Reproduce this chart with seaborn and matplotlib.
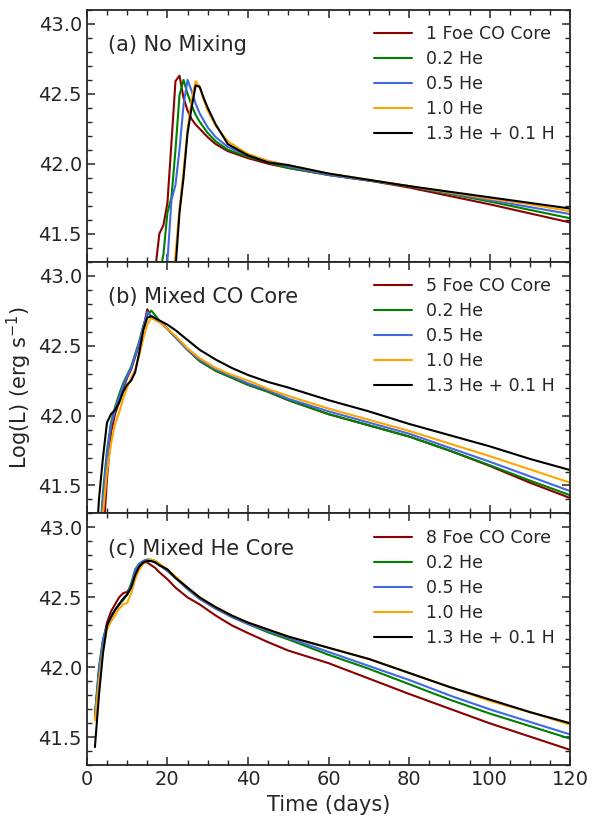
import numpy as np
import pandas as pd
import seaborn as sns
import matplotlib.pyplot as plt
from matplotlib.ticker import MultipleLocator

# series names (legend labels) for each panel
labels_a = ["1 Foe CO Core", "0.2 He", "0.5 He", "1.0 He", "1.3 He + 0.1 H"]
labels_b = ["5 Foe CO Core", "0.2 He", "0.5 He", "1.0 He", "1.3 He + 0.1 H"]
labels_c = ["8 Foe CO Core", "0.2 He", "0.5 He", "1.0 He", "1.3 He + 0.1 H"]
colors = ["#8b0000", "#008000", "#4169e1", "#ffa500", "#000000"]

# (a) No Mixing
t_a = [15, 16, 17, 18, 19, 20, 21, 22, 23, 24, 25, 26, 27, 28, 29, 30, 32, 35,
       40, 45, 50, 60, 70, 80, 90, 100, 110, 120]
a_co = [40.8, 41.0, 41.25, 41.5, 41.56, 41.72, 42.15, 42.59, 42.63, 42.47, 42.38, 42.32, 42.28, 42.25,
        42.22, 42.19, 42.14, 42.09, 42.04, 42.0, 41.97, 41.92, 41.88, 41.83, 41.77, 41.71, 41.645, 41.58]
a_02 = [40.5, 40.7, 41.0, 41.2, 41.35, 41.65, 41.76, 42.1, 42.49, 42.6, 42.5, 42.42, 42.35, 42.3,
        42.26, 42.22, 42.16, 42.1, 42.05, 42.01, 41.97, 41.92, 41.88, 41.84, 41.785, 41.73, 41.67, 41.61]
a_05 = [40.4, 40.6, 40.8, 41.0, 41.15, 41.3, 41.74, 41.85, 42.1, 42.42, 42.6, 42.52, 42.43, 42.36,
        42.31, 42.26, 42.19, 42.12, 42.06, 42.02, 41.98, 41.92, 41.88, 41.84, 41.79, 41.74, 41.69, 41.64]
a_10 = [40.2, 40.4, 40.6, 40.7, 40.8, 41.0, 41.15, 41.35, 41.68, 41.95, 42.25, 42.45, 42.59, 42.55,
        42.46, 42.38, 42.27, 42.16, 42.07, 42.02, 41.99, 41.93, 41.885, 41.84, 41.795, 41.75, 41.71, 41.66]
a_13 = [40.1, 40.3, 40.5, 40.6, 40.7, 40.8, 41.0, 41.25, 41.65, 41.9, 42.22, 42.4, 42.56, 42.55,
        42.47, 42.4, 42.28, 42.14, 42.06, 42.01, 41.99, 41.93, 41.885, 41.84, 41.8, 41.76, 41.72, 41.68]

# (b) Mixed CO Core
t_b = [2, 3, 4, 5, 6, 7, 8, 9, 10, 11, 12, 13, 14, 15, 16, 18, 20, 22, 25, 28, 32, 36,
       40, 45, 50, 60, 70, 80, 90, 100, 110, 120]
b_co = [40.5, 40.8, 41.1, 41.55, 41.88, 42.01, 42.1, 42.19, 42.27, 42.33, 42.42, 42.51, 42.62, 42.76,
        42.7, 42.67, 42.62, 42.56, 42.47, 42.39, 42.32, 42.27, 42.22, 42.17, 42.11, 42.01, 41.93, 41.85,
        41.75, 41.64, 41.52, 41.41]
b_02 = [40.6, 41.0, 41.45, 41.75, 41.95, 42.06, 42.15, 42.23, 42.29, 42.35, 42.44, 42.53, 42.64, 42.72,
        42.75, 42.68, 42.62, 42.56, 42.47, 42.39, 42.32, 42.27, 42.22, 42.17, 42.11, 42.01, 41.93, 41.85,
        41.75, 41.645, 41.535, 41.43]
b_05 = [40.6, 40.95, 41.4, 41.72, 41.93, 42.04, 42.13, 42.21, 42.28, 42.34, 42.43, 42.52, 42.63, 42.74,
        42.71, 42.68, 42.62, 42.56, 42.47, 42.4, 42.33, 42.28, 42.23, 42.18, 42.12, 42.03, 41.95, 41.87,
        41.77, 41.67, 41.565, 41.46]
b_10 = [40.5, 40.9, 41.3, 41.6, 41.8, 41.94, 42.02, 42.12, 42.2, 42.27, 42.33, 42.43, 42.55, 42.65,
        42.7, 42.67, 42.62, 42.57, 42.48, 42.41, 42.34, 42.29, 42.25, 42.19, 42.14, 42.05, 41.97, 41.89,
        41.8, 41.71, 41.615, 41.52]
b_13 = [40.9, 41.4, 41.7, 41.95, 42.01, 42.04, 42.09, 42.17, 42.22, 42.25, 42.31, 42.45, 42.61, 42.7,
        42.71, 42.68, 42.65, 42.61, 42.54, 42.47, 42.4, 42.34, 42.29, 42.24, 42.2, 42.11, 42.03, 41.94,
        41.86, 41.78, 41.69, 41.61]

# (c) Mixed He Core
t_c = [2, 3, 4, 5, 6, 7, 8, 9, 10, 11, 12, 13, 14, 15, 16, 17, 18, 20, 22, 25, 28, 32, 36,
       40, 45, 50, 60, 70, 80, 90, 100, 110, 120]
c_co = [41.64, 41.95, 42.18, 42.32, 42.4, 42.45, 42.5, 42.53, 42.54, 42.58, 42.67, 42.72, 42.75, 42.75,
        42.73, 42.71, 42.68, 42.63, 42.57, 42.5, 42.45, 42.37, 42.3, 42.245, 42.18, 42.12, 42.03, 41.92,
        41.81, 41.705, 41.6, 41.505, 41.41]
c_02 = [41.66, 42.0, 42.2, 42.3, 42.36, 42.41, 42.45, 42.48, 42.52, 42.6, 42.7, 42.74, 42.76, 42.77,
        42.77, 42.76, 42.74, 42.69, 42.64, 42.56, 42.49, 42.42, 42.36, 42.31, 42.25, 42.2, 42.09, 41.99,
        41.88, 41.77, 41.67, 41.58, 41.49]
c_05 = [41.65, 41.98, 42.19, 42.3, 42.36, 42.41, 42.45, 42.49, 42.52, 42.58, 42.69, 42.74, 42.76, 42.77,
        42.76, 42.75, 42.73, 42.69, 42.64, 42.56, 42.49, 42.42, 42.36, 42.31, 42.26, 42.21, 42.11, 42.01,
        41.91, 41.8, 41.7, 41.61, 41.52]
c_10 = [41.62, 41.9, 42.12, 42.27, 42.33, 42.37, 42.42, 42.45, 42.46, 42.53, 42.63, 42.7, 42.74, 42.76,
        42.77, 42.76, 42.74, 42.7, 42.65, 42.57, 42.5, 42.43, 42.37, 42.32, 42.27, 42.22, 42.14, 42.06,
        41.96, 41.86, 41.76, 41.68, 41.59]
c_13 = [41.43, 41.8, 42.1, 42.3, 42.36, 42.41, 42.45, 42.49, 42.52, 42.57, 42.66, 42.72, 42.75, 42.76,
        42.76, 42.75, 42.73, 42.7, 42.64, 42.57, 42.5, 42.43, 42.37, 42.32, 42.27, 42.22, 42.14, 42.06,
        41.96, 41.86, 41.77, 41.68, 41.6]

panel_titles = ["(a) No Mixing", "(b) Mixed CO Core", "(c) Mixed He Core"]


def make_frame(t, series, labels):
    frames = []
    for vals, lab in zip(series, labels):
        frames.append(pd.DataFrame({"Time": t, "LogL": vals, "Model": lab}))
    return pd.concat(frames, ignore_index=True)


panels = [
    make_frame(t_a, [a_co, a_02, a_05, a_10, a_13], labels_a),
    make_frame(t_b, [b_co, b_02, b_05, b_10, b_13], labels_b),
    make_frame(t_c, [c_co, c_02, c_05, c_10, c_13], labels_c),
]
panel_labels = [labels_a, labels_b, labels_c]

sns.set_style("ticks")
plt.rcParams['font.family'] = ['DejaVu Sans']

fig, axes = plt.subplots(3, 1, figsize=(5.99, 8.22), dpi=100, sharex=True)
fig.subplots_adjust(left=0.145, right=0.952, top=0.988, bottom=0.069, hspace=0)

for ax, df, labs, title in zip(axes, panels, panel_labels, panel_titles):
    sns.lineplot(data=df, x="Time", y="LogL", hue="Model", hue_order=labs,
                 palette=dict(zip(labs, colors)), linewidth=1.5, sort=False,
                 errorbar=None, ax=ax)
    ax.set_xlim(0, 120)
    ax.set_ylim(41.3, 43.1)
    ax.xaxis.set_major_locator(MultipleLocator(20))
    ax.xaxis.set_minor_locator(MultipleLocator(5))
    ax.yaxis.set_major_locator(MultipleLocator(0.5))
    ax.yaxis.set_minor_locator(MultipleLocator(0.1))
    ax.tick_params(which="both", direction="in", top=True, right=True, labelsize=14)
    ax.tick_params(which="major", length=6, width=1.1)
    ax.tick_params(which="minor", length=3.5, width=1)
    for sp in ax.spines.values():
        sp.set_linewidth(1.3)
    ax.text(0.043, 0.86, title, transform=ax.transAxes, fontsize=15, va="center")
    ax.legend(loc="upper right", frameon=False, fontsize=12.5, handlelength=2.2,
              labelspacing=0.4, borderaxespad=0.5, handletextpad=0.8)
    ax.set_xlabel("")
    ax.set_ylabel("")

axes[1].set_ylabel(r"Log(L) (erg s$^{-1}$)", fontsize=15, labelpad=3)
axes[2].set_xlabel("Time (days)", fontsize=15)

fig.savefig("out.png", dpi=100)
